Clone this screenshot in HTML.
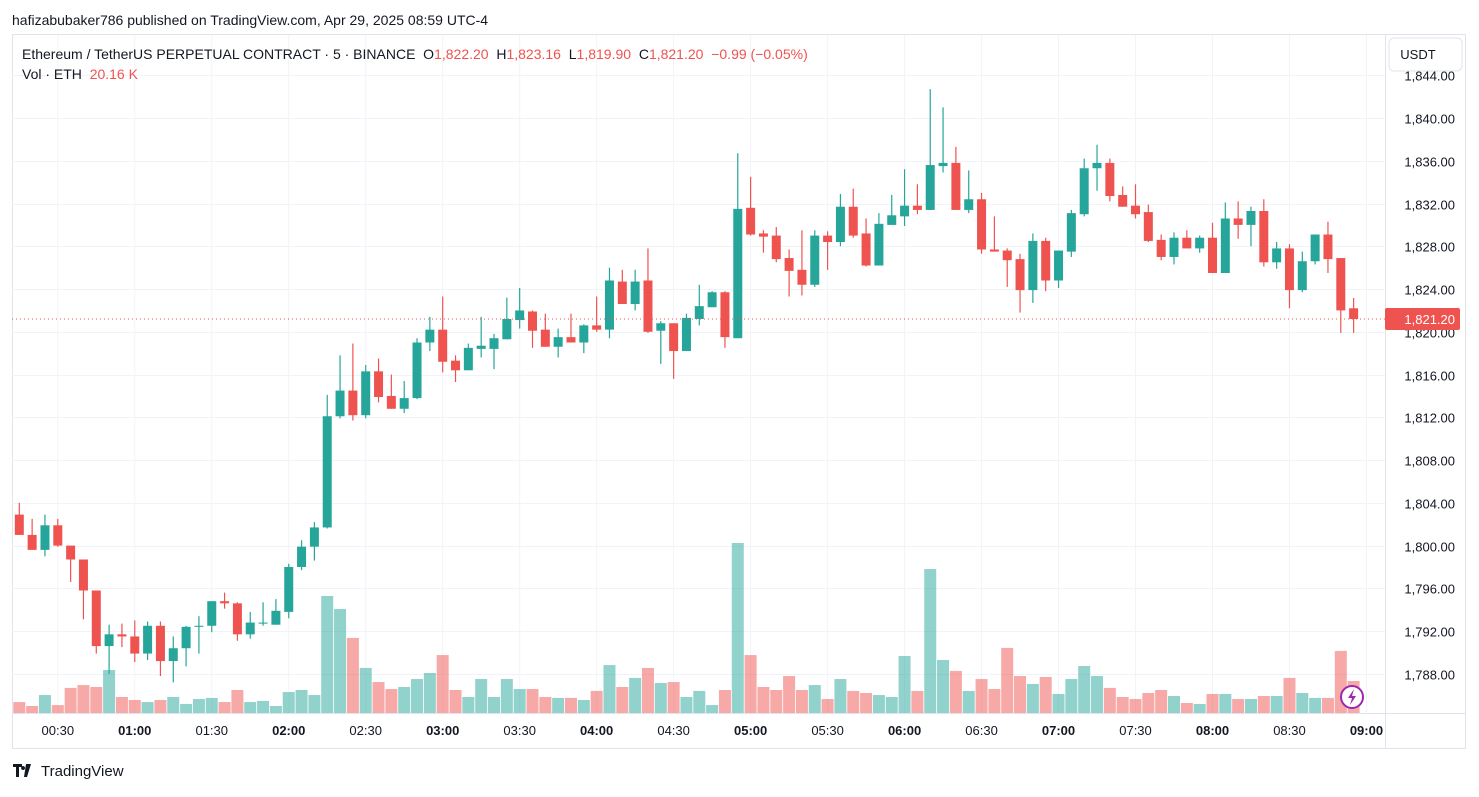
<!DOCTYPE html>
<html><head><meta charset="utf-8"><style>
body{margin:0;background:#fff;width:1479px;height:792px;overflow:hidden;font-family:"Liberation Sans",sans-serif}
svg text{font-family:"Liberation Sans",sans-serif}
</style></head><body>
<svg id="chart" width="1479" height="792" viewBox="0 0 1479 792" xmlns="http://www.w3.org/2000/svg">
<text x="12" y="25" font-size="14" fill="#131722">hafizabubaker786 published on TradingView.com, Apr 29, 2025 08:59 UTC-4</text>
<rect x="12.5" y="34.5" width="1453" height="714" fill="none" stroke="#e0e3eb"/>
<g id="grid"></g>
<g id="vol"></g>
<g id="candles"></g>
<line id="curline" x1="12" x2="1385" stroke="#ef5350" stroke-dasharray="1,3"/>
<line x1="12" x2="1465" y1="713.5" y2="713.5" stroke="#e0e3eb"/>
<line x1="1385.5" x2="1385.5" y1="35" y2="748" stroke="#e0e3eb"/>
<g id="yaxis"></g>
<g id="xaxis"></g>
<rect x="1389" y="38" width="73" height="33" rx="5" fill="#fff" stroke="#e0e3eb"/>
<text x="1418" y="59" font-size="13" fill="#131722" text-anchor="middle">USDT</text>
<g id="pricelabel"></g>
<text x="22" y="59" font-size="14" fill="#131722" style="white-space:pre">Ethereum / TetherUS PERPETUAL CONTRACT · 5 · BINANCE  O<tspan fill="#ef5350">1,822.20</tspan>  H<tspan fill="#ef5350">1,823.16</tspan>  L<tspan fill="#ef5350">1,819.90</tspan>  C<tspan fill="#ef5350">1,821.20</tspan>  <tspan fill="#ef5350">−0.99 (−0.05%)</tspan></text>
<text x="22" y="79" font-size="14" fill="#131722" style="white-space:pre">Vol · ETH  <tspan fill="#ef5350">20.16 K</tspan></text>
<g>
<circle cx="1352" cy="697" r="11" fill="#fff" stroke="#9c27b0" stroke-width="2"/>
<path d="M1354 689 L1348 698 L1352 698 L1350 705 L1356 696 L1352 696 Z" fill="#9c27b0"/>
</g>
<g>
<path d="M13 764 h9 v3 h-3 v10 h-3 v-10 h-3 z M23 770 a2 2 0 1 1 0.1 0 z M26 764 h5 l-4 13 h-3 z" fill="#131722"/>
<text x="41" y="776" font-size="15" fill="#131722">TradingView</text>
</g>
</svg>
<script>
const opens=[1802.9,1801.0,1799.6,1801.9,1800.0,1798.7,1795.8,1790.6,1791.7,1791.5,1789.9,1792.5,1789.2,1790.4,1792.4,1792.5,1794.8,1794.6,1791.7,1792.7,1792.6,1793.8,1798.0,1799.9,1801.7,1812.1,1814.5,1812.2,1816.3,1814.0,1812.8,1813.8,1819.0,1820.2,1817.3,1816.4,1818.4,1818.4,1819.3,1821.1,1821.9,1820.2,1818.6,1819.5,1819.0,1820.6,1820.2,1824.7,1822.6,1824.8,1820.1,1820.8,1818.2,1821.2,1822.3,1823.7,1819.4,1831.6,1829.2,1829.0,1826.9,1825.8,1824.4,1829.0,1828.4,1831.7,1829.2,1826.2,1830.0,1830.8,1831.8,1831.4,1835.5,1835.8,1831.4,1832.4,1827.7,1827.6,1826.8,1823.9,1828.5,1824.8,1827.5,1831.0,1835.3,1835.8,1832.8,1831.8,1831.2,1828.6,1827.0,1828.8,1827.8,1828.8,1825.5,1830.6,1830.0,1831.3,1826.5,1827.8,1823.9,1826.6,1829.1,1826.9,1822.2];
const highs=[1804.0,1802.5,1802.9,1802.5,1800.0,1798.7,1795.8,1792.6,1792.7,1793.0,1792.9,1792.9,1791.5,1792.5,1793.4,1794.8,1795.6,1794.7,1793.8,1794.7,1795.0,1798.3,1800.5,1802.2,1814.1,1817.8,1818.9,1816.9,1817.5,1816.0,1815.4,1819.4,1821.4,1823.3,1817.8,1818.9,1821.4,1819.8,1823.2,1824.1,1822.0,1821.7,1820.3,1821.7,1820.7,1823.3,1826.0,1825.8,1825.8,1827.8,1821.0,1820.8,1821.7,1824.4,1823.8,1823.8,1836.7,1834.5,1829.5,1829.8,1827.7,1829.5,1829.5,1829.4,1832.9,1833.4,1830.6,1831.1,1832.8,1835.2,1833.8,1842.7,1841.0,1837.3,1835.1,1833.0,1830.8,1827.8,1827.3,1829.2,1828.8,1827.6,1831.4,1836.2,1837.5,1836.2,1833.6,1833.8,1831.9,1829.1,1829.3,1829.5,1829.0,1830.2,1832.1,1832.2,1831.7,1832.4,1828.4,1828.2,1827.5,1829.1,1830.3,1826.9,1823.16];
const lows=[1801.0,1799.6,1799.0,1799.9,1796.6,1793.1,1789.9,1788.0,1790.5,1789.1,1789.3,1787.8,1787.2,1788.7,1789.9,1791.9,1794.1,1791.1,1791.3,1792.5,1792.6,1793.2,1797.7,1798.6,1801.6,1811.9,1811.7,1811.9,1813.4,1812.8,1812.4,1813.7,1818.2,1816.2,1815.3,1816.4,1817.6,1816.5,1819.3,1820.3,1818.5,1818.6,1817.6,1819.0,1818.0,1820.0,1819.4,1822.6,1822.0,1819.9,1817.0,1815.6,1818.2,1820.6,1822.3,1818.5,1819.4,1829.0,1827.4,1826.5,1823.3,1823.4,1824.2,1825.8,1828.0,1828.8,1826.1,1826.2,1830.0,1829.9,1831.0,1831.4,1834.9,1831.4,1831.1,1827.3,1827.5,1824.2,1821.8,1822.7,1823.8,1824.1,1827.0,1830.8,1833.2,1832.2,1831.7,1830.6,1828.4,1826.7,1826.3,1827.8,1827.4,1825.5,1825.5,1828.7,1828.0,1826.1,1825.9,1822.2,1823.7,1826.3,1825.5,1819.9,1819.90];
const closes=[1801.0,1799.6,1801.9,1800.0,1798.7,1795.8,1790.6,1791.7,1791.5,1789.9,1792.5,1789.2,1790.4,1792.4,1792.5,1794.8,1794.6,1791.7,1792.8,1792.8,1793.9,1798.0,1799.9,1801.7,1812.1,1814.5,1812.2,1816.3,1813.9,1812.8,1813.8,1819.0,1820.2,1817.2,1816.4,1818.5,1818.7,1819.4,1821.2,1822.0,1820.1,1818.6,1819.5,1819.0,1820.6,1820.2,1824.8,1822.6,1824.7,1820.0,1820.8,1818.2,1821.3,1822.4,1823.7,1819.5,1831.5,1829.1,1828.9,1826.8,1825.7,1824.4,1829.0,1828.4,1831.7,1829.0,1826.2,1830.1,1830.9,1831.8,1831.4,1835.6,1835.8,1831.4,1832.4,1827.7,1827.5,1826.7,1823.9,1828.5,1824.8,1827.6,1831.1,1835.3,1835.8,1832.7,1831.7,1831.0,1828.5,1827.0,1828.8,1827.8,1828.8,1825.5,1830.6,1830.0,1831.3,1826.5,1827.8,1823.9,1826.6,1829.1,1826.8,1822.0,1821.20];
const volumes=[6.9,4.4,11.3,5.0,15.8,17.6,16.4,27.1,10.1,8.2,6.9,8.2,10.1,5.7,8.8,9.5,6.9,14.5,6.9,7.6,4.4,13.2,14.5,11.3,73.7,
65.5,47.3,28.4,19.5,15.1,16.4,21.4,25.2,36.5,14.5,10.1,21.4,10.1,21.4,15.1,15.1,10.1,9.5,9.5,8.2,13.9,30.2,16.4,22.1,28.4,18.9,19.5,10.1,13.9,5.0,14.5,107.1,36.5,16.4,14.5,23.3,14.5,17.6,8.8,21.4,
13.9,12.6,11.3,10.1,35.9,13.9,90.7,33.4,26.5,13.9,21.4,15.1,41.0,23.3,18.3,22.7,12.0,21.4,29.6,23.3,15.8,10.1,8.8,12.6,14.5,10.7,6.3,5.7,12.0,12.0,8.8,8.8,10.7,10.7,22.1,12.6,9.5,9.5,39.1,20.16];
const priceTicks=[1788,1792,1796,1800,1804,1808,1812,1816,1820,1824,1828,1832,1836,1840,1844];
const timeLabels=["00:30","01:00","01:30","02:00","02:30","03:00","03:30","04:00","04:30","05:00","05:30","06:00","06:30","07:00","07:30","08:00","08:30","09:00"];
const lastPrice=1821.20;

const NS="http://www.w3.org/2000/svg";
function yS(p){return 118+(1840-p)*10.69;}
function xS(i){return 19.3+12.83*i;}
function vS(v){return 713-v/0.63;}
function mk(tag,attrs,parent){const e=document.createElementNS(NS,tag);for(const k in attrs)e.setAttribute(k,attrs[k]);parent.appendChild(e);return e;}
const G=document.getElementById('grid'),V=document.getElementById('vol'),C=document.getElementById('candles'),YA=document.getElementById('yaxis'),XA=document.getElementById('xaxis');
priceTicks.forEach(p=>{
  const y=Math.round(yS(p))+0.5;
  const l=mk('line',{x1:12,x2:1385,y1:y,y2:y,stroke:'#f0f3fa'},G);
  
  
  const t=mk('text',{x:1455,y:y+5,'font-size':13,fill:'#131722','text-anchor':'end'},YA);
  
  
  t.textContent=p.toLocaleString('en-US',{minimumFractionDigits:2});
});
timeLabels.forEach((s,k)=>{
  const x=xS(3+6*k);
  const l=mk('line',{x1:x,x2:x,y1:35,y2:713,stroke:'#f3f4f8'},G);
  
  
  const t=mk('text',{x:x,y:735,'font-size':13,fill:'#131722','text-anchor':'middle','font-weight':s.endsWith(':00')?'bold':'normal'},XA);
  
  
  t.textContent=s;
});
opens.forEach((o,i)=>{
  const c=closes[i],up=c>=o,col=up?'#26a69a':'#ef5350',x=xS(i);
  const vb=mk('rect',{x:x-6,y:vS(volumes[i]),width:12,height:713-vS(volumes[i]),fill:up?'rgba(38,166,154,0.5)':'rgba(239,83,80,0.5)'},V);
  
  
  const w=mk('line',{x1:x,x2:x,y1:yS(highs[i]),y2:yS(lows[i]),stroke:col,'stroke-width':1.2},C);
  
  
  const top=yS(Math.max(o,c)),bot=yS(Math.min(o,c));
  const b=mk('rect',{x:x-4.5,y:top,width:9,height:Math.max(1,bot-top),fill:col},C);
  
  
});
const ly=yS(lastPrice);
const cl=document.getElementById('curline');cl.setAttribute('y1',ly);cl.setAttribute('y2',ly);
const PL=document.getElementById('pricelabel');
const pr=mk('rect',{x:1385,y:ly-11,width:75,height:22,rx:2,fill:'#ef5350'},PL);


const pt=mk('text',{x:1455,y:ly+5,'font-size':13,fill:'#fff','text-anchor':'end'},PL);


pt.textContent=lastPrice.toLocaleString('en-US',{minimumFractionDigits:2});
</script>
</body></html>
